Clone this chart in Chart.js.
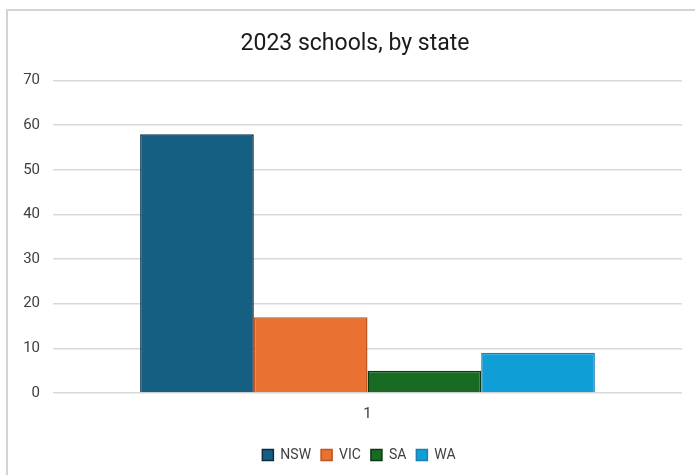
<!DOCTYPE html>
<html>
<head>
<meta charset="utf-8">
<script src="https://cdn.jsdelivr.net/npm/chart.js@4/dist/chart.umd.min.js"></script>
<style>
  html, body { margin: 0; padding: 0; background: #fff; }
  #frame { position: absolute; left: 6px; top: 9px; width: 700px; height: 480px; border: 2px solid #d4d4d4; box-sizing: border-box; }
  #wrap { position: absolute; left: 0; top: 0; width: 695px; height: 475px; }
</style>
</head>
<body>
<div id="frame"></div>
<div id="wrap"><canvas id="barCanvas"></canvas></div>
<script>
const categories = ["1"];
const states = ["NSW", "VIC", "SA", "WA"];
const schools = [58, 17, 5, 9];
const fills = ["#156082", "#e97132", "#196b24", "#0f9ed5"];
const edges = ["#0c2c44", "#c0531e", "#0b3a10", "#1a7fb8"];

// nudge title and legend right, like the original sits centred over the plot
const shiftBoxes = {
    id: "shiftBoxes",
    afterLayout(chart) {
        chart.titleBlock.left += 14; chart.titleBlock.right += 14;
        chart.legend.left += 18; chart.legend.right += 18;
    }
};

const barCanvas = document.getElementById("barCanvas");
const barChart = new Chart(barCanvas, {
    type: "bar",
    data: {
        labels: categories,
        datasets: states.map((s, i) => ({
            label: s,
            data: [schools[i]],
            backgroundColor: fills[i],
            borderColor: edges[i],
            borderWidth: 1.5,
            categoryPercentage: 0.723,
            barPercentage: 1
        }))
    },
    options: {
        responsive: true,
        maintainAspectRatio: false,
        animation: false,
        layout: { padding: { top: 30, right: 13, bottom: 3, left: 0 } },
        plugins: {
            title: {
                display: true,
                text: "2023 schools, by state",
                color: "#1a1a1a",
                font: { family: "Roboto", size: 23, weight: "normal" },
                padding: { top: 0, bottom: 23 }
            },
            legend: {
                position: "bottom",
                labels: {
                    boxWidth: 11,
                    boxHeight: 11,
                    padding: 10,
                    color: "#404040",
                    font: { family: "Roboto", size: 14 }
                }
            },
            tooltip: { enabled: false }
        },
        scales: {
            y: {
                min: 0,
                max: 70,
                afterFit: (axis) => { axis.width = 53; },
                ticks: {
                    stepSize: 10,
                    padding: 13,
                    color: "#404040",
                    font: { family: "Roboto", size: 15 }
                },
                grid: { color: "#d9d9d9", lineWidth: 1.5, drawTicks: false },
                border: { display: false }
            },
            x: {
                afterFit: (axis) => { axis.height = 45; },
                ticks: {
                    padding: 4,
                    color: "#404040",
                    font: { family: "Roboto", size: 15 }
                },
                grid: { display: false },
                border: { display: false }
            }
        }
    },
    plugins: [shiftBoxes]
});
</script>
</body>
</html>
